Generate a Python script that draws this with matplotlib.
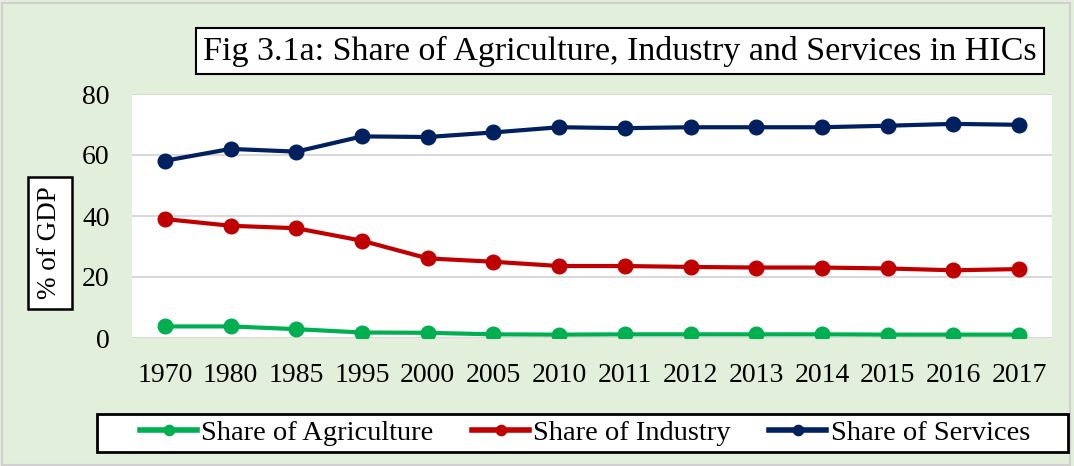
import matplotlib.pyplot as plt
from matplotlib.patches import Rectangle

years = ["1970", "1980", "1985", "1995", "2000", "2005", "2010",
         "2011", "2012", "2013", "2014", "2015", "2016", "2017"]
agriculture = [3.8, 3.8, 2.9, 1.8, 1.7, 1.2, 1.1, 1.2, 1.2, 1.2, 1.2, 1.1, 1.1, 1.1]
industry = [39.0, 36.8, 36.0, 31.9, 26.1, 25.0, 23.6, 23.6, 23.3, 23.1, 23.1, 22.8, 22.2, 22.6]
services = [58.1, 62.0, 61.1, 66.1, 65.9, 67.4, 69.1, 68.8, 69.1, 69.1, 69.1, 69.6, 70.2, 69.9]

plt.rcParams['font.family'] = ['Liberation Serif', 'DejaVu Serif']

W, H = 1074, 466
fig = plt.figure(figsize=(W / 100, H / 100), dpi=100)
fig.patch.set_facecolor('#E2EFDA')
fig.patches.append(Rectangle((2 / W, 1 / H), (W - 6) / W, (H - 4) / H, transform=fig.transFigure,
                             fill=False, edgecolor='#D0D0D0', lw=1.5))

ax = fig.add_axes([132 / W, 1 - 338 / H, (1052 - 132) / W, (338 - 94) / H])
ax.set_facecolor('white')

x = range(len(years))
ax.plot(x, agriculture, color='#00B050', lw=3, marker='o', ms=10.5, label='Share of Agriculture')
ax.plot(x, industry, color='#C00000', lw=3, marker='o', ms=10.5, label='Share of Industry')
ax.plot(x, services, color='#002060', lw=3, marker='o', ms=10.5, label='Share of Services')

ax.set_xlim(-0.5, len(years) - 0.5)
ax.set_ylim(0, 80)
ax.set_yticks([0, 20, 40, 60, 80])
ax.set_xticks(list(x))
ax.set_xticklabels(years)
ax.tick_params(axis='both', length=0, labelsize=20)
ax.tick_params(axis='x', pad=18)
ax.tick_params(axis='y', pad=16)
ax.grid(axis='y', color='#D9D9D9', lw=1.5)
ax.set_axisbelow(True)
for s in ax.spines.values():
    s.set_visible(False)

fig.text(620 / W, 1 - 51 / H, 'Fig 3.1a: Share of Agriculture, Industry and Services in HICs',
         ha='center', va='center', fontsize=24.5,
         bbox=dict(boxstyle='square,pad=0.22', facecolor='white', edgecolor='black', lw=1.5))

fig.text(50 / W, 1 - 243 / H, '% of GDP', rotation=90, ha='center', va='center', fontsize=19.5,
         bbox=dict(boxstyle='square,pad=0.35', facecolor='white', edgecolor='black', lw=1.8))

# legend frame drawn separately so it can be wider than its contents
fig.patches.append(Rectangle((97 / W, 1 - 452 / H), 971 / W, 38 / H, transform=fig.transFigure,
                             facecolor='white', edgecolor='black', lw=2))
leg = fig.legend(loc='center', bbox_to_anchor=(585 / W, 1 - 433 / H), ncol=3, fontsize=20.5,
                 frameon=False, handlelength=2.0, handletextpad=0.15, columnspacing=1.35,
                 borderpad=0, borderaxespad=0, markerscale=0.7)
for line in leg.get_lines():
    line.set_linewidth(4)

fig.savefig('out.png', dpi=100, facecolor=fig.get_facecolor())
